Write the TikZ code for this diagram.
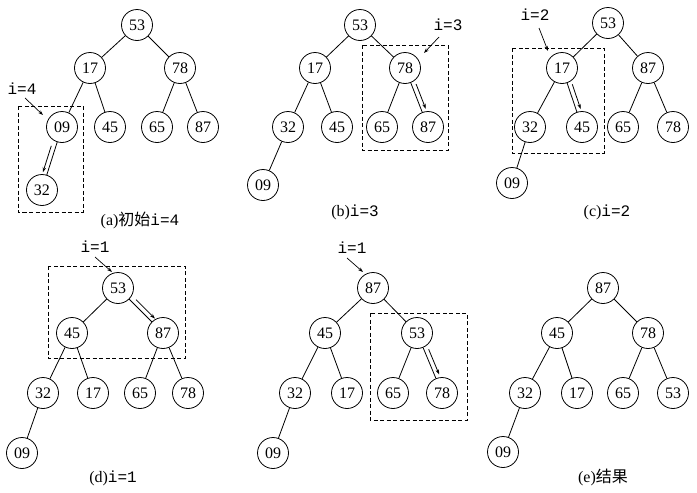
\documentclass[tikz,border=0pt]{standalone}
\usepackage{fontspec}
\setmainfont{Liberation Serif}
\setmonofont{Liberation Mono}
\newfontfamily\cjk{Noto Sans CJK SC}
\usetikzlibrary{calc,arrows.meta}
\begin{document}
\begin{tikzpicture}[x=1pt,y=1pt,
  nd/.style={circle,draw,line width=0.8pt,minimum size=31pt,inner sep=0pt,font=\fontsize{16}{16}\selectfont},
  edge/.style={line width=0.8pt},
  dbox/.style={dashed,line width=0.8pt,dash pattern=on 4pt off 2.5pt},
  ptr/.style={line width=0.7pt,-{Stealth[length=5pt,width=3.5pt]}},
  dar/.style={line width=0.8pt,-{Stealth[length=5pt,width=3.5pt]}},
  itext/.style={font=\fontsize{16}{16}\selectfont\ttfamily,inner sep=1pt},
  lab/.style={font=\fontsize{16}{16}\selectfont,inner sep=1pt}]
\useasboundingbox (0,0) rectangle (697,-493);
\fill[white] (0,0) rectangle (697,-493);

% ---------- (a)
\node[nd] (a53) at (137,-25) {53};
\node[nd] (a17) at (90,-68) {17};
\node[nd] (a78) at (180,-68) {78};
\node[nd] (a09) at (62,-127) {09};
\node[nd] (a45) at (110,-127) {45};
\node[nd] (a65) at (157,-127) {65};
\node[nd] (a87) at (203,-127) {87};
\node[nd] (a32) at (42,-190) {32};
\foreach \u/\v in {a53/a17,a53/a78,a17/a09,a17/a45,a78/a65,a78/a87,a09/a32}
  \draw[edge] (\u) -- (\v);
\draw[dbox] (18,-106) rectangle (83,-212);
\node[itext] (ia) at (22,-89) {i=4};
\coordinate (sa) at (25,-98);
\coordinate (ta) at (43,-115);
\draw[ptr] (sa) -- (ta);
\draw[dar] ($(a09)!0.32!(a32)!4.5pt!-90:(a32)$) -- ($(a09)!0.74!(a32)!4.5pt!-90:(a32)$);
\node[lab] (la) at (140,-220) {(a){\cjk 初始}\texttt{i=4}};

% ---------- (b)
\node[nd] (b53) at (360,-25) {53};
\node[nd] (b17) at (315,-68) {17};
\node[nd] (b78) at (405,-68) {78};
\node[nd] (b32) at (288,-127) {32};
\node[nd] (b45) at (337,-127) {45};
\node[nd] (b65) at (382,-127) {65};
\node[nd] (b87) at (428,-127) {87};
\node[nd] (b09) at (263,-185) {09};
\foreach \u/\v in {b53/b17,b53/b78,b17/b32,b17/b45,b78/b65,b78/b87,b32/b09}
  \draw[edge] (\u) -- (\v);
\draw[dbox] (362,-45) rectangle (448,-150);
\node[itext] (ib) at (448,-25) {i=3};
\coordinate (sb) at (439,-37);
\coordinate (tb) at (424,-53);
\draw[ptr] (sb) -- (tb);
\draw[dar] ($(b78)!0.3!(b87)!4.5pt!90:(b87)$) -- ($(b78)!0.72!(b87)!4.5pt!90:(b87)$);
\node[lab] (lb) at (355,-212) {(b)\texttt{i=3}};

% ---------- (c)
\node[nd] (c53) at (608,-23) {53};
\node[nd] (c17) at (562,-68) {17};
\node[nd] (c87) at (648,-68) {87};
\node[nd] (c32) at (530,-127) {32};
\node[nd] (c45) at (582,-127) {45};
\node[nd] (c65) at (623,-127) {65};
\node[nd] (c78) at (673,-127) {78};
\node[nd] (c09) at (512,-183) {09};
\foreach \u/\v in {c53/c17,c53/c87,c17/c32,c17/c45,c87/c65,c87/c78,c32/c09}
  \draw[edge] (\u) -- (\v);
\draw[dbox] (512,-48) rectangle (604,-153);
\node[itext] (ic) at (535,-15) {i=2};
\coordinate (sc) at (539,-28);
\coordinate (tc) at (548,-51);
\draw[ptr] (sc) -- (tc);
\draw[dar] ($(c17)!0.3!(c45)!4.5pt!90:(c45)$) -- ($(c17)!0.72!(c45)!4.5pt!90:(c45)$);
\node[lab] (lc) at (607,-212) {(c)\texttt{i=2}};

% ---------- (d)
\node[nd] (d53) at (118,-288) {53};
\node[nd] (d45) at (72,-333) {45};
\node[nd] (d87) at (163,-333) {87};
\node[nd] (d32) at (43,-393) {32};
\node[nd] (d17) at (93,-393) {17};
\node[nd] (d65) at (140,-393) {65};
\node[nd] (d78) at (188,-393) {78};
\node[nd] (d09) at (22,-453) {09};
\foreach \u/\v in {d53/d45,d53/d87,d45/d32,d45/d17,d87/d65,d87/d78,d32/d09}
  \draw[edge] (\u) -- (\v);
\draw[dbox] (48,-266) rectangle (185,-358);
\node[itext] (id) at (95,-247) {i=1};
\coordinate (sd) at (95,-257);
\coordinate (td) at (112,-272);
\draw[ptr] (sd) -- (td);
\draw[dar] ($(d53)!0.33!(d87)!4.5pt!90:(d87)$) -- ($(d53)!0.75!(d87)!4.5pt!90:(d87)$);
\node[lab] (ld) at (113,-478) {(d)\texttt{i=1}};

% ---------- (e) middle
\node[nd] (e87) at (373,-288) {87};
\node[nd] (e45) at (325,-333) {45};
\node[nd] (e53) at (417,-333) {53};
\node[nd] (e32) at (295,-393) {32};
\node[nd] (e17) at (347,-393) {17};
\node[nd] (e65) at (393,-393) {65};
\node[nd] (e78) at (442,-393) {78};
\node[nd] (e09) at (273,-453) {09};
\foreach \u/\v in {e87/e45,e87/e53,e45/e32,e45/e17,e53/e65,e53/e78,e32/e09}
  \draw[edge] (\u) -- (\v);
\draw[dbox] (370,-313) rectangle (467,-420);
\node[itext] (ie) at (352,-248) {i=1};
\coordinate (se) at (347,-258);
\coordinate (te) at (363,-272);
\draw[ptr] (se) -- (te);
\draw[dar] ($(e53)!0.3!(e78)!4.5pt!90:(e78)$) -- ($(e53)!0.72!(e78)!4.5pt!90:(e78)$);

% ---------- (f) result
\node[nd] (f87) at (603,-288) {87};
\node[nd] (f45) at (557,-333) {45};
\node[nd] (f78) at (648,-333) {78};
\node[nd] (f32) at (525,-393) {32};
\node[nd] (f17) at (577,-393) {17};
\node[nd] (f65) at (623,-393) {65};
\node[nd] (f53) at (673,-393) {53};
\node[nd] (f09) at (503,-452) {09};
\foreach \u/\v in {f87/f45,f87/f78,f45/f32,f45/f17,f78/f65,f78/f53,f32/f09}
  \draw[edge] (\u) -- (\v);
\node[lab] (lf) at (603,-477) {(e){\cjk 结果}};
\end{tikzpicture}
\end{document}
